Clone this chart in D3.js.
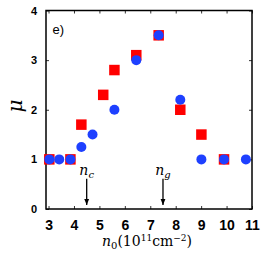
<!DOCTYPE html>
<html>
<head>
<meta charset="utf-8">
<script src="https://cdn.jsdelivr.net/npm/d3@7"></script>
<style>
  body { margin: 0; background: #fff; }
  svg { display: block; }
</style>
</head>
<body>
<svg id="chart"></svg>
<script>
const width = 262;
const height = 253;
const margin = {top: 10.5, right: 10, bottom: 44, left: 46};

// blue circles
const circleX = [3.03, 3.42, 3.86, 4.29, 4.73, 5.59, 6.45, 7.33, 8.18, 9.01, 9.9, 10.76];
const circleY = [1.0, 1.0, 1.0, 1.25, 1.5, 2.0, 3.0, 3.5, 2.2, 1.0, 1.0, 1.0];

// red squares
const squareX = [3.03, 3.86, 4.29, 5.15, 5.59, 6.45, 7.33, 8.18, 9.01, 9.9];
const squareY = [1.0, 1.0, 1.7, 2.3, 2.8, 3.1, 3.5, 2.0, 1.5, 1.0];

const xTicks = [3, 4, 5, 6, 7, 8, 9, 10, 11];
const yTicks = [0, 1, 2, 3, 4];

// arrows marking n_c and n_g
const arrowX = [4.5, 7.5];
const arrowSub = ['c', 'g'];

const svg = d3.select('#chart')
    .attr('width', width)
    .attr('height', height);

const x = d3.scaleLinear().domain([2.9, 11]).range([margin.left, 252]);
const y = d3.scaleLinear().domain([0, 4]).range([height - margin.bottom, margin.top]);

const plotRight = x.range()[1];
const plotBottom = y.range()[0];

// mirror ticks on top and right
svg.append('g')
    .attr('transform', `translate(0, ${margin.top})`)
    .call(d3.axisTop(x).tickValues(xTicks).tickSizeInner(-3).tickSizeOuter(0).tickFormat(''))
    .call(g => g.select('.domain').remove())
    .call(g => g.selectAll('line').attr('stroke', '#333'));

svg.append('g')
    .attr('transform', `translate(${plotRight}, 0)`)
    .call(d3.axisRight(y).tickValues(yTicks).tickSizeInner(-3).tickSizeOuter(0).tickFormat(''))
    .call(g => g.select('.domain').remove())
    .call(g => g.selectAll('line').attr('stroke', '#333'));

const xAxis = svg.append('g')
    .attr('transform', `translate(0, ${plotBottom})`)
    .call(d3.axisBottom(x).tickValues(xTicks).tickSizeInner(-3).tickSizeOuter(0).tickPadding(11).tickFormat(d3.format('d')));
xAxis.select('.domain').remove();
xAxis.selectAll('line').attr('stroke', '#333');
xAxis.selectAll('text')
    .attr('font-family', '"Liberation Sans Narrow", "Liberation Sans", sans-serif')
    .attr('font-weight', 'bold')
    .attr('font-size', 14)
    .attr('fill', '#000');

const yAxis = svg.append('g')
    .attr('transform', `translate(${margin.left}, 0)`)
    .call(d3.axisLeft(y).tickValues(yTicks).tickSizeInner(-3).tickSizeOuter(0).tickPadding(9).tickFormat(d3.format('d')));
yAxis.select('.domain').remove();
yAxis.selectAll('line').attr('stroke', '#333');
yAxis.selectAll('text')
    .attr('font-family', '"Liberation Sans Narrow", "Liberation Sans", sans-serif')
    .attr('font-weight', 'bold')
    .attr('font-size', 11)
    .attr('fill', '#000');

// frame
svg.append('rect')
    .attr('x', margin.left)
    .attr('y', margin.top)
    .attr('width', plotRight - margin.left)
    .attr('height', plotBottom - margin.top)
    .attr('fill', 'none')
    .attr('stroke', '#000')
    .attr('stroke-width', 1.5);

// red squares
const sq = 10.5;
svg.append('g').selectAll('rect')
    .data(squareX.map((d, i) => [d, squareY[i]]))
    .enter().append('rect')
    .attr('x', d => x(d[0]) - sq / 2)
    .attr('y', d => y(d[1]) - sq / 2)
    .attr('width', sq)
    .attr('height', sq)
    .attr('fill', '#ff0000');

// blue circles
svg.append('g').selectAll('circle')
    .data(circleX.map((d, i) => [d, circleY[i]]))
    .enter().append('circle')
    .attr('cx', d => x(d[0]))
    .attr('cy', d => y(d[1]))
    .attr('r', 5)
    .attr('fill', '#1e40ff');

// arrows
svg.append('defs').append('marker')
    .attr('id', 'head')
    .attr('viewBox', '0 0 10 10')
    .attr('refX', 10).attr('refY', 5)
    .attr('markerWidth', 5).attr('markerHeight', 5)
    .attr('orient', 'auto')
    .append('path').attr('d', 'M0,1L10,5L0,9Z').attr('fill', '#000');

arrowX.forEach((a, i) => {
    svg.append('line')
        .attr('x1', x(a)).attr('x2', x(a))
        .attr('y1', y(0.61)).attr('y2', y(0.08))
        .attr('stroke', '#000')
        .attr('stroke-width', 1.3)
        .attr('marker-end', 'url(#head)');
    const t = svg.append('text')
        .attr('x', x(a))
        .attr('y', y(0.69))
        .attr('text-anchor', 'middle')
        .attr('font-family', '"DejaVu Serif", serif')
        .attr('font-size', 14);
    t.append('tspan').attr('font-style', 'italic').text('n');
    t.append('tspan').attr('font-style', 'italic').attr('font-size', 10).attr('dy', 3).text(arrowSub[i]);
});

// panel label
svg.append('text')
    .attr('x', 52.5)
    .attr('y', 34)
    .attr('font-family', '"Liberation Sans", Arial, sans-serif')
    .attr('font-size', 13)
    .text('e)');

// y label
svg.append('text')
    .attr('transform', 'translate(22, 106) rotate(-90)')
    .attr('text-anchor', 'middle')
    .attr('font-family', '"DejaVu Serif", serif')
    .attr('font-style', 'italic')
    .attr('font-size', 20)
    .text('μ');

// x label
const xl = svg.append('text')
    .attr('x', 147)
    .attr('y', 246)
    .attr('text-anchor', 'middle')
    .attr('font-family', '"DejaVu Serif", serif')
    .attr('font-size', 14);
xl.append('tspan').attr('font-style', 'italic').text('n');
xl.append('tspan').attr('font-size', 10).attr('dy', 3).text('0');
xl.append('tspan').attr('dy', -3).text('(10');
xl.append('tspan').attr('font-size', 9).attr('dy', -5).text('11');
xl.append('tspan').attr('dy', 5).text('cm');
xl.append('tspan').attr('font-size', 9).attr('dy', -5).text('−2');
xl.append('tspan').attr('dy', 5).text(')');
</script>
</body>
</html>
